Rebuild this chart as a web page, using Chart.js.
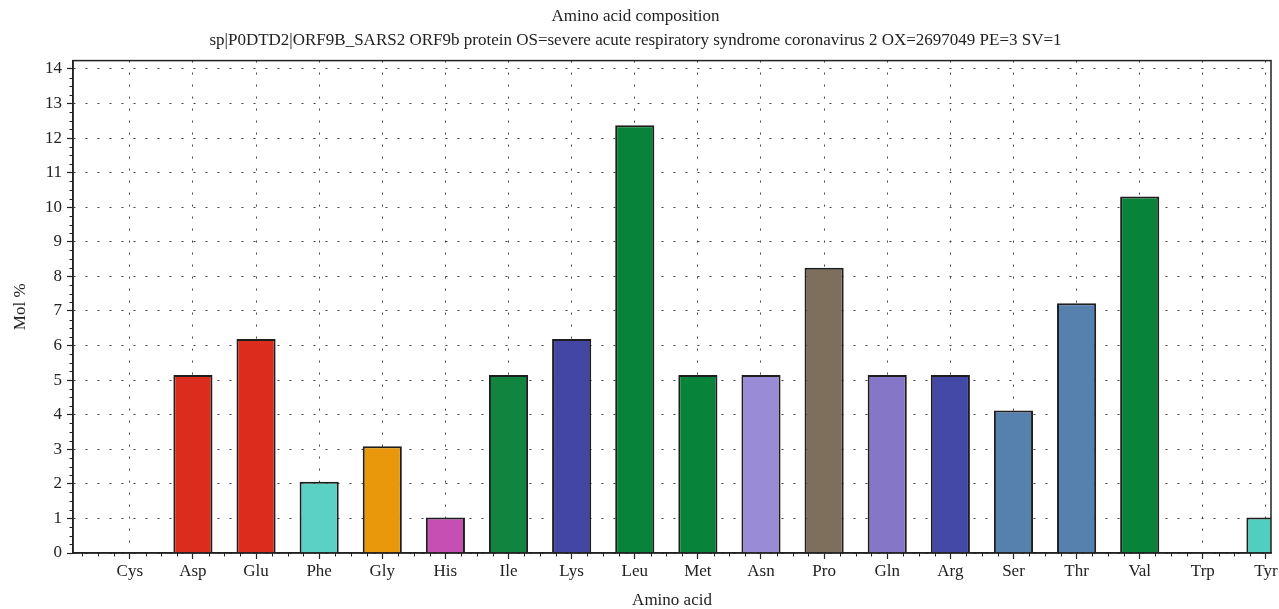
<!DOCTYPE html>
<html>
<head>
<meta charset="utf-8">
<script src="https://cdn.jsdelivr.net/npm/chart.js@4/dist/chart.umd.min.js"></script>
<style>
  html, body { margin: 0; padding: 0; background: #fff; }
  #wrap { width: 1279px; height: 609px; }
</style>
</head>
<body>
<div id="wrap"><canvas id="barComposicion" width="1279" height="609"></canvas></div>
<script>
// datos del grafico
var aminoacidos = ["Cys", "Asp", "Glu", "Phe", "Gly", "His", "Ile", "Lys", "Leu", "Met",
                   "Asn", "Pro", "Gln", "Arg", "Ser", "Thr", "Val", "Trp", "Tyr"];
var molPorcentaje = [0, 5.15, 6.19, 2.06, 3.09, 1.03, 5.15, 6.19, 12.37, 5.15,
                     5.15, 8.25, 5.15, 5.15, 4.12, 7.22, 10.31, 0, 1.03];
var coloresBarras = ["#888888", "#dc2c1e", "#dc2c1e", "#5bd0c4", "#e8980a", "#c64fb3", "#118440", "#4446a6", "#08843a", "#08843a",
                     "#9a8bd6", "#7d6f5b", "#8676c8", "#4449a8", "#5680ad", "#5680ad", "#08843a", "#888888", "#50cfc0"];
var ticksY = [0, 1, 2, 3, 4, 5, 6, 7, 8, 9, 10, 11, 12, 13, 14];

var titulo = "Amino acid composition";
var subtitulo = "sp|P0DTD2|ORF9B_SARS2 ORF9b protein OS=severe acute respiratory syndrome coronavirus 2 OX=2697049 PE=3 SV=1";

var fuente = "'Liberation Serif', 'Times New Roman', serif";
var colorTexto = "#222222";

// marco superior/derecho y ticks menores
var pluginMarco = {
  id: "marco",
  afterDatasetsDraw: function (chart) {
    var ctx = chart.ctx;
    var a = chart.chartArea;
    ctx.save();
    ctx.strokeStyle = "#222222";
    ctx.lineWidth = 1.5;
    ctx.strokeRect(a.left, a.top, a.right - a.left, a.bottom - a.top);

    // ticks menores cada 0.25
    ctx.lineWidth = 1;
    var x = chart.scales.x, y = chart.scales.y;
    ctx.beginPath();
    for (var v = Math.ceil(x.min * 4) / 4; v <= x.max; v += 0.25) {
      if (Math.abs(v - Math.round(v)) < 1e-6) continue;
      var px = Math.round(x.getPixelForValue(v)) + 0.5;
      ctx.moveTo(px, a.bottom);
      ctx.lineTo(px, a.bottom + 3.5);
    }
    for (var w = 0.25; w <= y.max; w += 0.25) {
      if (Math.abs(w - Math.round(w)) < 1e-6) continue;
      var py = Math.round(y.getPixelForValue(w)) + 0.5;
      ctx.moveTo(a.left, py);
      ctx.lineTo(a.left - 3.5, py);
    }
    ctx.stroke();
    ctx.restore();
  }
};

function GraficoComposicion() {
  var canvas = document.getElementById("barComposicion");
  var ctx = canvas.getContext("2d");

  var puntos = molPorcentaje.map(function (valor, i) {
    return { x: i, y: valor };
  });

  var config = {
    type: "bar",
    data: {
      datasets: [
        {
          label: "Mol %",
          data: puntos,
          backgroundColor: coloresBarras,
          borderColor: "#1e1e1e",
          borderWidth: 2,
          categoryPercentage: 1,
          barPercentage: 0.62,
        },
      ],
    },
    options: {
      responsive: false,
      animation: false,
      devicePixelRatio: 1,
      layout: { padding: { left: 0, right: 8, top: 0, bottom: 0 } },
      plugins: {
        legend: { display: false },
        tooltip: { enabled: false },
        title: {
          display: true,
          text: [titulo, subtitulo],
          color: colorTexto,
          font: { family: fuente, size: 17, weight: "normal", lineHeight: 1.4 },
          padding: { top: 5, bottom: 8 },
        },
      },
      scales: {
        x: {
          type: "linear",
          offset: false,
          min: -0.9,
          max: 18.08,
          afterBuildTicks: function (scale) {
            scale.ticks = aminoacidos.map(function (n, i) { return { value: i }; });
          },
          afterFit: function (scale) {
            scale.height = 56;
            scale.paddingLeft = 0;
            scale.paddingRight = 0;
          },
          ticks: {
            color: colorTexto,
            font: { family: fuente, size: 17 },
            padding: 2,
            maxRotation: 0,
            autoSkip: false,
            callback: function (valor) {
              return aminoacidos[valor];
            },
          },
          grid: {
            offset: false,
            color: "#444444",
            lineWidth: 1,
            tickLength: 6,
            tickColor: "#222222",
            tickWidth: 1.2,
          },
          border: { display: true, color: "#222222", width: 1.5, dash: [2, 10] },
          title: {
            display: true,
            text: "Amino acid",
            color: colorTexto,
            font: { family: fuente, size: 17, lineHeight: 1.05 },
            padding: { top: 0, bottom: 0 },
          },
        },
        y: {
          min: 0,
          max: 14.24,
          afterBuildTicks: function (scale) {
            scale.ticks = ticksY.map(function (v) { return { value: v }; });
          },
          afterFit: function (scale) {
            scale.width = 73;
            scale.paddingTop = 0;
            scale.paddingBottom = 0;
          },
          ticks: {
            color: colorTexto,
            font: { family: fuente, size: 17 },
            padding: 5,
          },
          grid: {
            color: "#444444",
            lineWidth: 1,
            tickLength: 6,
            tickColor: "#222222",
            tickWidth: 1.2,
          },
          border: { display: true, color: "#222222", width: 1.5, dash: [2, 10] },
          title: {
            display: true,
            text: "Mol %",
            color: colorTexto,
            font: { family: fuente, size: 17, lineHeight: 1.2 },
            padding: { top: 10, bottom: 0 },
          },
        },
      },
    },
    plugins: [pluginMarco],
  };

  var grafico = new Chart(ctx, config);
}

GraficoComposicion();
</script>
</body>
</html>
